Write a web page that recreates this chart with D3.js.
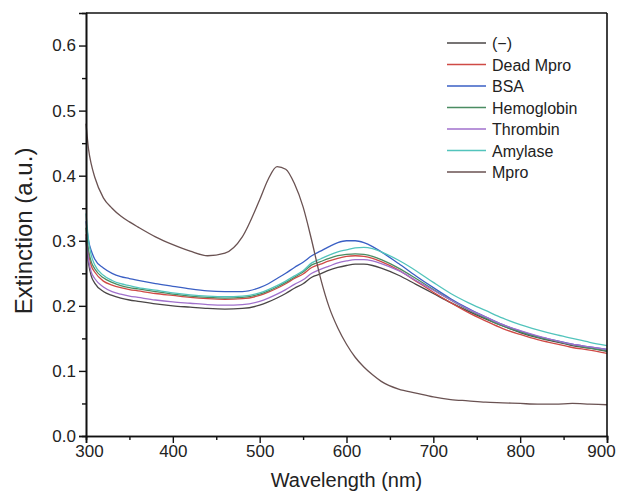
<!DOCTYPE html>
<html>
<head>
<meta charset="utf-8">
<script src="https://cdn.jsdelivr.net/npm/d3@7"></script>
<style>
  html, body { margin: 0; padding: 0; background: #fff; }
  svg { display: block; font-family: "Liberation Sans", Arial, sans-serif; }
</style>
</head>
<body>
<svg id="chart" width="617" height="493"></svg>
<script>
// Wavelength grid (nm)
const wavelengths = [300,303,306,310,320,330,340,350,360,380,400,420,440,460,480,500,510,520,530,540,550,560,570,580,590,600,610,620,630,640,660,680,700,720,740,760,780,800,820,840,860,880,900];

const seriesNames = ["(−)", "Dead Mpro", "BSA", "Hemoglobin", "Thrombin", "Amylase", "Mpro"];
const seriesColors = ["#4a4646", "#cf4a45", "#3a5fc4", "#4a8c62", "#a070cc", "#52c4bc", "#6a5252"];

const negative = [0.300,0.265,0.246,0.235,0.222,0.216,0.212,0.209,0.207,0.203,0.200,0.198,0.196,0.195,0.196,0.201,0.206,0.212,0.219,0.227,0.234,0.244,0.249,0.255,0.259,0.262,0.264,0.264,0.262,0.258,0.247,0.233,0.219,0.205,0.192,0.180,0.169,0.159,0.151,0.145,0.139,0.135,0.130];
const deadMpro = [0.310,0.280,0.262,0.252,0.238,0.232,0.228,0.225,0.223,0.219,0.216,0.213,0.211,0.210,0.211,0.216,0.221,0.227,0.234,0.242,0.249,0.259,0.264,0.269,0.273,0.276,0.277,0.276,0.273,0.268,0.255,0.238,0.221,0.205,0.190,0.177,0.165,0.156,0.148,0.142,0.136,0.132,0.127];
const bsa = [0.330,0.300,0.285,0.272,0.258,0.250,0.245,0.242,0.239,0.234,0.230,0.226,0.223,0.222,0.222,0.228,0.234,0.242,0.250,0.259,0.267,0.277,0.284,0.291,0.297,0.300,0.300,0.297,0.291,0.283,0.265,0.246,0.228,0.211,0.196,0.183,0.171,0.161,0.153,0.147,0.141,0.137,0.133];
const hemoglobin = [0.320,0.285,0.268,0.257,0.243,0.236,0.231,0.228,0.226,0.222,0.218,0.215,0.213,0.212,0.213,0.218,0.223,0.229,0.236,0.244,0.252,0.263,0.268,0.273,0.277,0.279,0.280,0.279,0.276,0.271,0.258,0.242,0.225,0.209,0.194,0.181,0.169,0.160,0.152,0.146,0.140,0.135,0.131];
const thrombin = [0.305,0.270,0.252,0.242,0.229,0.222,0.218,0.215,0.213,0.209,0.206,0.204,0.202,0.201,0.202,0.207,0.212,0.218,0.225,0.233,0.240,0.250,0.256,0.261,0.266,0.269,0.271,0.271,0.269,0.265,0.254,0.239,0.224,0.209,0.195,0.183,0.171,0.162,0.154,0.147,0.141,0.137,0.133];
const amylase = [0.342,0.300,0.278,0.263,0.247,0.239,0.234,0.231,0.228,0.224,0.220,0.217,0.215,0.214,0.215,0.220,0.225,0.231,0.238,0.246,0.254,0.266,0.272,0.278,0.283,0.286,0.289,0.290,0.288,0.283,0.270,0.254,0.236,0.219,0.205,0.193,0.181,0.171,0.163,0.156,0.150,0.144,0.139];
const mpro = [0.480,0.440,0.418,0.398,0.366,0.350,0.338,0.329,0.321,0.306,0.294,0.284,0.277,0.281,0.306,0.363,0.395,0.414,0.410,0.388,0.352,0.300,0.243,0.198,0.166,0.141,0.121,0.106,0.094,0.084,0.072,0.066,0.060,0.056,0.054,0.052,0.051,0.050,0.049,0.049,0.050,0.049,0.048];

const seriesValues = [negative, deadMpro, bsa, hemoglobin, thrombin, amylase, mpro];

const xMajorTicks = [300,400,500,600,700,800,900];
const xMinorTicks = [350,450,550,650,750,850];
const yMajorTicks = [0.0,0.1,0.2,0.3,0.4,0.5,0.6];
const yMinorTicks = [0.05,0.15,0.25,0.35,0.45,0.55];

const svg = d3.select("#chart");
const mLeft = 86, mRight = 607, mTop = 13, mBottom = 436;

const x = d3.scaleLinear().domain([300, 900]).range([mLeft, mRight]);
const y = d3.scaleLinear().domain([0, 0.65]).range([mBottom, mTop]);

// Lines
const line = d3.line().x(d => x(d[0])).y(d => y(d[1])).curve(d3.curveMonotoneX);
const g = svg.append("g");
seriesValues.forEach((vals, i) => {
  const pts = wavelengths.map((w, j) => [w, vals[j]]);
  g.append("path")
    .attr("d", line(pts))
    .attr("fill", "none")
    .attr("stroke", seriesColors[i])
    .attr("stroke-width", 1.3);
});

// Axes
const axisColor = "#111";
const xAxis = d3.axisBottom(x).tickValues(xMajorTicks).tickSize(7).tickPadding(2).tickFormat(d3.format("d"));
const xAxisMinor = d3.axisBottom(x).tickValues(xMinorTicks).tickSize(4).tickFormat("");
const yAxis = d3.axisLeft(y).tickValues(yMajorTicks).tickSize(7).tickPadding(3).tickFormat(d3.format(".1f"));
const yAxisMinor = d3.axisLeft(y).tickValues(yMinorTicks).tickSize(4).tickFormat("");

function styleAxis(sel) {
  sel.selectAll("path").attr("stroke", axisColor).attr("stroke-width", 1.6);
  sel.selectAll("line").attr("stroke", axisColor).attr("stroke-width", 1.4);
  sel.selectAll("text").attr("fill", "#222").style("font-size", "17px").style("font-family", "'Liberation Sans', Arial, sans-serif");
}

svg.append("g").attr("transform", `translate(0,${mBottom})`).call(xAxisMinor).call(styleAxis);
const gx = svg.append("g").attr("transform", `translate(0,${mBottom})`).call(xAxis).call(styleAxis);
// nudge the end labels inward as in the reference
gx.selectAll(".tick text").attr("dx", d => d === 300 ? 3 : (d === 900 ? -6 : 0));
svg.append("g").attr("transform", `translate(${mLeft},0)`).call(yAxisMinor).call(styleAxis);
svg.append("g").attr("transform", `translate(${mLeft},0)`).call(yAxis).call(styleAxis);

// Top & right frame
svg.append("line").attr("x1", mLeft).attr("x2", mRight).attr("y1", mTop).attr("y2", mTop)
  .attr("stroke", axisColor).attr("stroke-width", 1.6);
svg.append("line").attr("x1", mRight).attr("x2", mRight).attr("y1", mTop).attr("y2", mBottom)
  .attr("stroke", axisColor).attr("stroke-width", 1.6);

// Axis titles
svg.append("text").attr("x", (mLeft + mRight) / 2).attr("y", 487)
  .attr("text-anchor", "middle").attr("fill", "#222")
  .style("font-size", "20px").text("Wavelength (nm)");
svg.append("text").attr("transform", "translate(32,231) rotate(-90)")
  .attr("text-anchor", "middle").attr("fill", "#222")
  .style("font-size", "24px").text("Extinction (a.u.)");

// Legend
const legY0 = 43, legDy = 21.5;
const leg = svg.append("g");
seriesNames.forEach((name, i) => {
  const yy = legY0 + i * legDy;
  leg.append("line").attr("x1", 447).attr("x2", 486).attr("y1", yy).attr("y2", yy)
    .attr("stroke", seriesColors[i]).attr("stroke-width", 1.6);
  leg.append("text").attr("x", 492).attr("y", yy + 6)
    .attr("fill", "#222").style("font-size", "16px").text(name);
});
</script>
</body>
</html>
